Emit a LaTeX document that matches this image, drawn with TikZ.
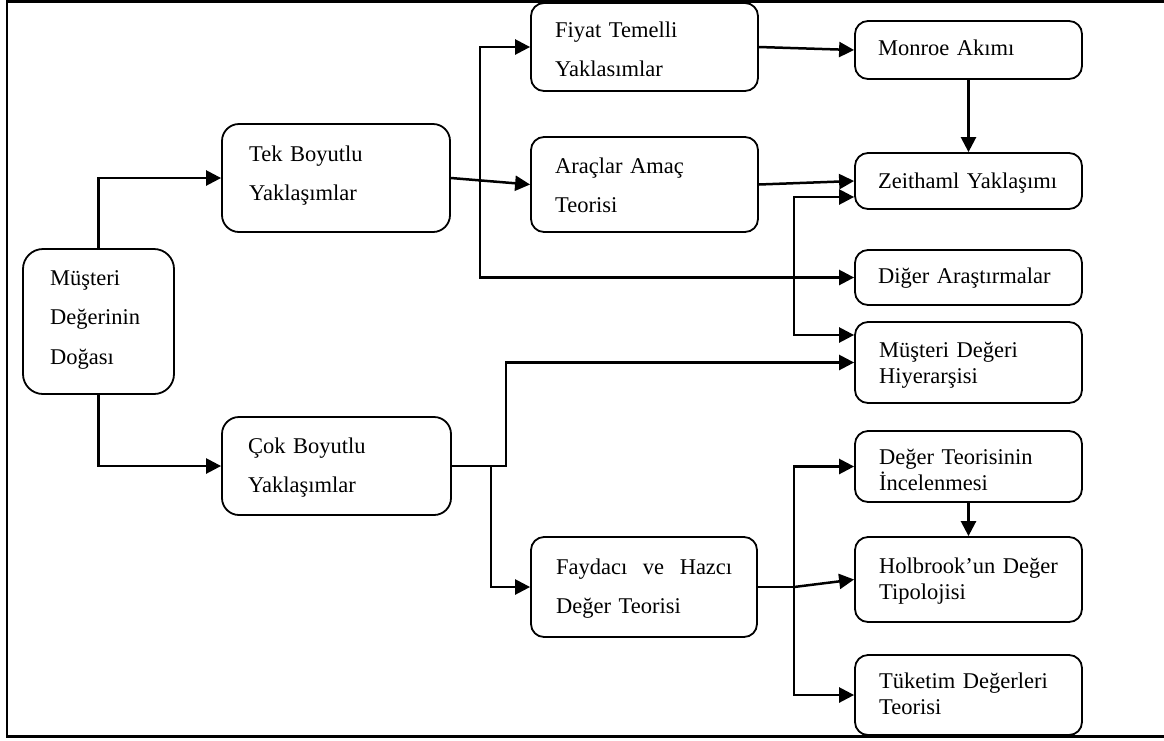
\documentclass[tikz,border=0pt]{standalone}
\usepackage{fontspec}
\setmainfont{Liberation Serif}
\usetikzlibrary{arrows.meta,calc}

\begin{document}
\begin{tikzpicture}[x=1pt,y=-1pt,
  box/.style={draw,line width=1.8pt,rounded corners=13pt,inner sep=0pt},
  bigbox/.style={box,rounded corners=17pt},
  txt/.style={inner sep=0pt,anchor=base west,align=left,text width=200pt,font=\fontsize{22.5}{39.5}\selectfont},
  txtr/.style={txt,font=\fontsize{22.5}{26}\selectfont},
  conn/.style={line width=2.5pt},
  arr/.style={conn,-{Triangle[length=15pt,width=15pt]}},
  arrboth/.style={conn,{Triangle[length=15pt,width=15pt]}-{Triangle[length=15pt,width=15pt]}},
  frameline/.style={line width=2.6pt}]
\useasboundingbox (0,0) rectangle (1164,740);

% outer frame
\draw[frameline] (1164,1.3) -- (7,1.3) -- (7,736.6) -- (1164,736.6);

% boxes
\node[bigbox,rounded corners=20pt,minimum width=151pt,minimum height=145pt] (mdd) at (98.5,321.5) {};
\node[bigbox,minimum width=228pt,minimum height=108pt] (tek) at (336,178) {};
\node[bigbox,minimum width=229pt,minimum height=98pt] (cok) at (336.5,466) {};
\node[box,minimum width=227pt,minimum height=88pt] (fiyat) at (644.5,47) {};
\node[box,minimum width=227pt,minimum height=95pt] (arac) at (644.5,184.5) {};
\node[box,minimum width=226pt,minimum height=100pt] (fayd) at (644,587) {};
\node[box,minimum width=227pt,minimum height=58pt] (monroe) at (968.5,50) {};
\node[box,minimum width=227pt,minimum height=56pt] (zeit) at (968.5,181) {};
\node[box,minimum width=227pt,minimum height=55pt] (diger) at (968.5,277.5) {};
\node[box,minimum width=227pt,minimum height=81pt] (mdh) at (968.5,362.5) {};
\node[box,minimum width=227pt,minimum height=71pt] (dti) at (968.5,466.5) {};
\node[box,minimum width=227pt,minimum height=85pt] (holb) at (968.5,579.5) {};
\node[box,minimum width=227pt,minimum height=80pt] (tuk) at (968.5,695) {};

% texts (anchored at the baseline of their first line)
\node[txt,text width=120pt] (mdd-t) at (50,285) {Müşteri\\Değerinin\\Doğası};
\node[txt] (tek-t) at (249,161) {Tek Boyutlu\\Yaklaşımlar};
\node[txt] (cok-t) at (248,453) {Çok Boyutlu\\Yaklaşımlar};
\node[txt] (fiyat-t) at (555,37) {Fiyat Temelli\\Yaklasımlar};
\node[txt] (arac-t) at (555,173) {Araçlar Amaç\\Teorisi};
\node[txt,text width=176pt] (fayd-t) at (556,574) {Faydacı\hfill ve\hfill Hazcı\\Değer Teorisi};
\node[txtr] (monroe-t) at (878,55) {Monroe Akımı};
\node[txtr] (zeit-t) at (878,188) {Zeithaml Yaklaşımı};
\node[txtr] (diger-t) at (878,283) {Diğer Araştırmalar};
\node[txtr] (mdh-t) at (879,357) {Müşteri Değeri\\Hiyerarşisi};
\node[txtr] (dti-t) at (879,464) {Değer Teorisinin\\İncelenmesi};
\node[txtr] (holb-t) at (879,573) {Holbrook’un Değer\\Tipolojisi};
\node[txtr] (tuk-t) at (879,688) {Tüketim Değerleri\\Teorisi};

% vertical bus lines
\coordinate (cbus) at (506,0);
\coordinate (fbus) at (491,0);
\coordinate (rbus) at (794,0);

% root branches
\draw[arr] (mdd.north) |- (tek.west);
\draw[arr] (mdd.south) |- (cok.west);

% one-dimensional branch
\draw[arr] (tek.east) -- (arac.west);
\coordinate (j1) at ($(tek.east)!0.37!(arac.west)$);
\draw[arr] (j1) |- (fiyat.west);
\draw[arr] (j1) |- (diger.west);
\draw[arr] (fiyat.east) -- (monroe.west);
\draw[arr] (monroe.south) -- (zeit.north);
\draw[arr] (arac.east) -- (zeit.west);
\coordinate (za) at ([yshift=-16pt]zeit.west);
\coordinate (ma) at ([yshift=27.5pt]mdh.west);
\draw[arrboth] (za) -- (za -| rbus) -- (ma -| rbus) -- (ma);

% multi-dimensional branch
\draw[arr] (cok.east) -- (cok.east -| cbus) |- (mdh.west);
\draw[arr] (cok.east -| fbus) |- (fayd.west);
\coordinate (j3) at (fayd.east -| rbus);
\draw[line width=1.3pt] (fayd.east) -- (j3);
\draw[arr] (j3) -- (holb.west);
\draw[arr] (j3) |- (dti.west);
\draw[arr] (j3) |- (tuk.west);
\draw[arr] (dti.south) -- (holb.north);
\end{tikzpicture}
\end{document}
